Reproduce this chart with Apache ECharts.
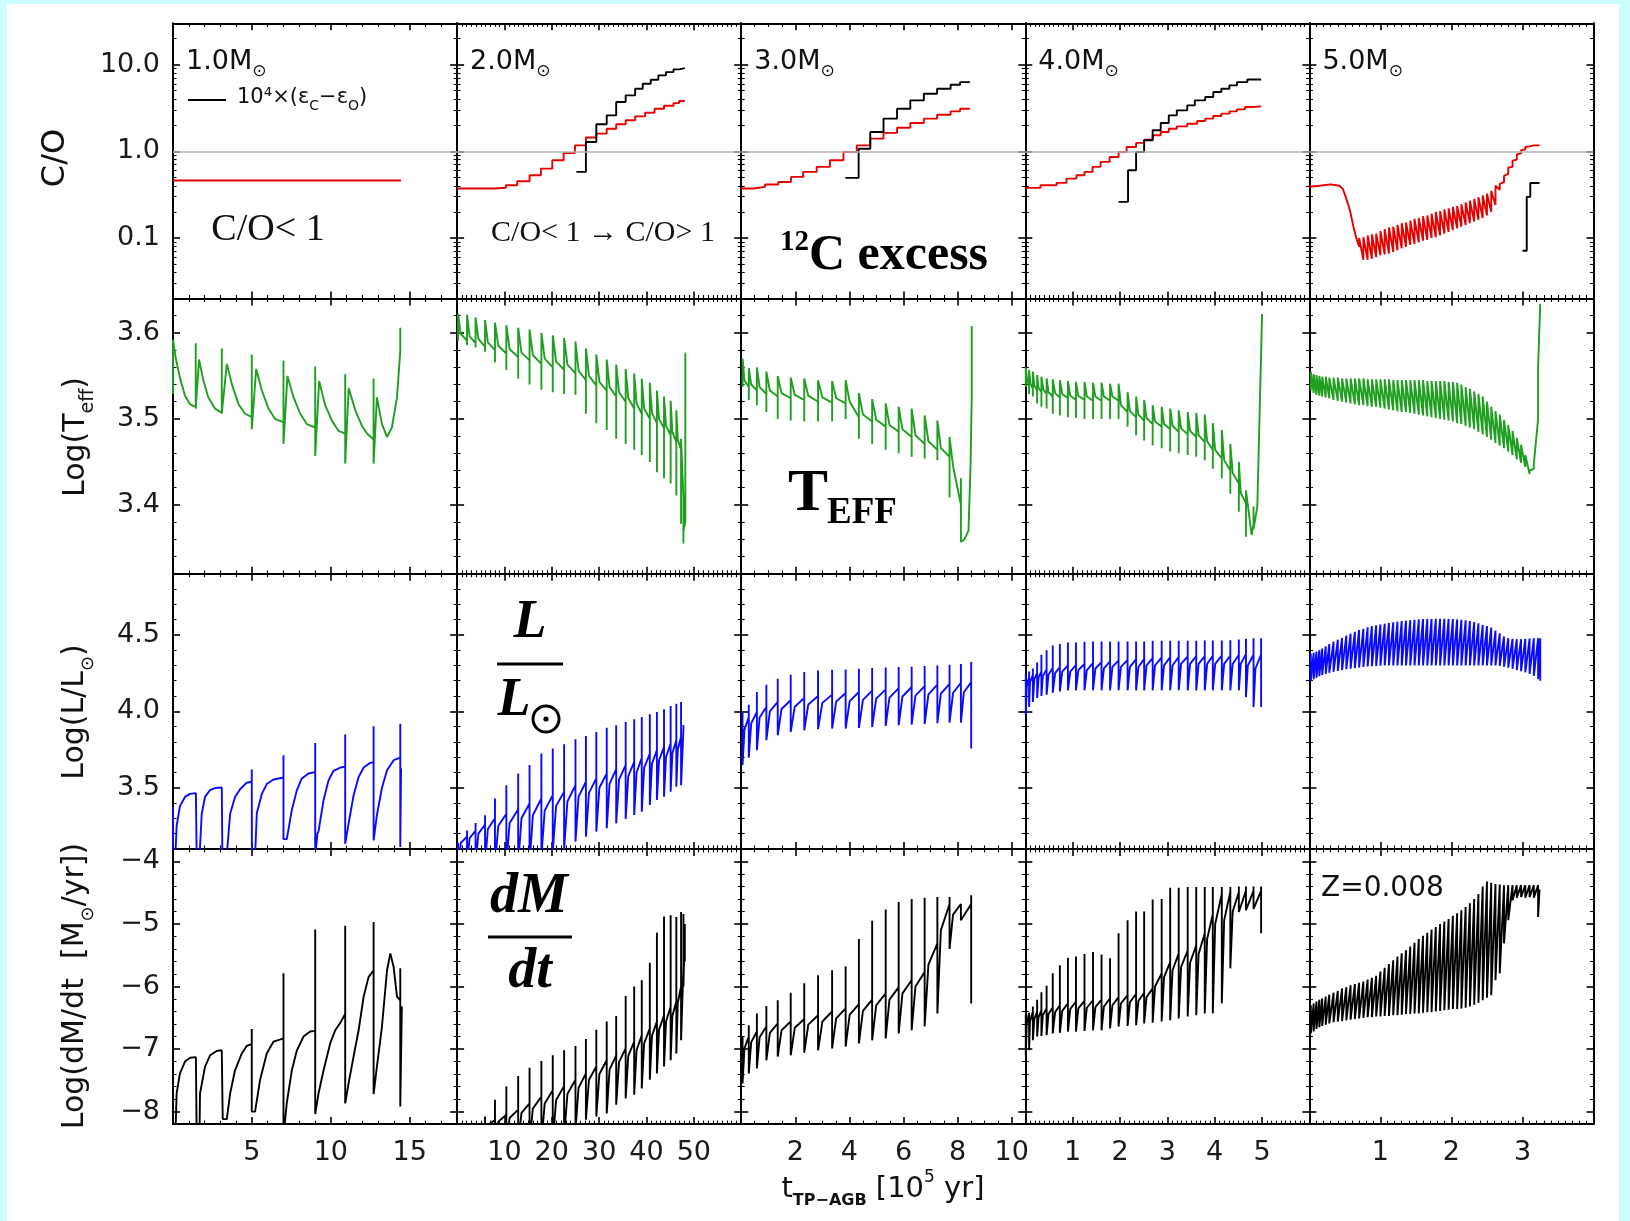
<!DOCTYPE html>
<html><head><meta charset="utf-8">
<script src="https://cdn.jsdelivr.net/npm/echarts@6/dist/echarts.min.js"></script>
<style>
html,body{margin:0;padding:0;background:#cdfdfd;width:1630px;height:1221px;overflow:hidden;}
#frame{position:absolute;left:7px;top:4px;width:1612px;height:1217px;background:#fff;}
#chart{position:absolute;left:0;top:0;width:1630px;height:1221px;}
</style></head>
<body><div id="frame"></div><div id="chart"></div>
<script>
// ---------------- axes / ticks ----------------
const xMax = [18, 60, 10.5, 6, 4];
const xStep = [5, 10, 2, 1, 1];
const xMinor = [5, 10, 4, 10, 10];
const xTickLabels = [[5,10,15],[10,20,30,40,50],[2,4,6,8,10],[1,2,3,4,5],[1,2,3]];
const yRange = [[0.02,30],[3.32,3.64],[3.1,4.9],[-8.2,-3.8]];
const yStep = [null, 0.1, 0.5, 1];
const yTickLabels = [[10,1,0.1],[3.6,3.5,3.4],[4.5,4.0,3.5],[-4,-5,-6,-7,-8]];
const massLabels = ['1.0M','2.0M','3.0M','4.0M','5.0M'];

// ---------------- row 1 : C/O (step data [t, value]) ----------------
const co1Red = [[0,0.46],[14.45,0.46]];
const co2Red = [[0,0.372],[7.9,0.38],[10.3,0.406],[12.7,0.451],[15.3,0.529],[17.7,0.631],[20.1,0.788],[22.5,0.957],[24.9,1.17],[27.2,1.44],[29.4,1.6],[31.6,1.82],[33.6,2.05],[35.6,2.28],[37.6,2.53],[39.7,2.79],[41.7,3.1],[43.7,3.36],[45.7,3.6],[46.9,3.8],[48.1,3.8]];
const co2Black = [[25.2,0.578],[27.2,1.28],[29.4,2.05],[31.6,2.6],[33.6,3.7],[35.6,4.42],[37.6,5.27],[39.2,6.02],[40.9,6.7],[42.5,7.51],[44.1,8.2],[45.7,8.81],[46.9,9.13],[48.1,9.13]];
const co3Red = [[0,0.372],[0.45,0.388],[0.88,0.413],[1.37,0.443],[1.84,0.506],[2.29,0.578],[2.79,0.66],[3.28,0.788],[3.78,0.982],[4.27,1.17],[4.77,1.4],[5.26,1.63],[5.76,1.87],[6.25,2.12],[6.75,2.38],[7.24,2.64],[7.74,2.89],[8.09,3.1],[8.45,3.1]];
const co3Black = [[3.85,0.493],[4.34,1.07],[4.77,1.67],[5.26,2.38],[5.76,3.1],[6.25,3.87],[6.75,4.61],[7.24,5.27],[7.74,5.86],[8.09,6.29],[8.45,6.29]];
const co4Red = [[0,0.378],[0.32,0.406],[0.66,0.432],[0.87,0.484],[1.08,0.529],[1.25,0.578],[1.42,0.66],[1.59,0.754],[1.78,0.86],[1.97,0.982],[2.14,1.12],[2.34,1.25],[2.51,1.36],[2.69,1.53],[2.86,1.67],[3.03,1.82],[3.2,1.94],[3.42,2.08],[3.63,2.24],[3.80,2.38],[3.97,2.55],[4.14,2.72],[4.31,2.89],[4.47,3.05],[4.64,3.24],[4.81,3.3],[4.98,3.3]];
const co4Black = [[1.97,0.261],[2.17,0.604],[2.34,0.982],[2.51,1.34],[2.69,1.75],[2.86,2.12],[3.03,2.6],[3.20,2.97],[3.42,3.39],[3.58,3.87],[3.80,4.23],[3.97,4.83],[4.14,5.27],[4.31,5.76],[4.47,6.29],[4.69,6.75],[4.98,6.75]];
const co5Red = [[0,0.39],[0.14,0.40],[0.30,0.415],[0.42,0.40],[0.47,0.37],[0.51,0.30],[0.57,0.21],[0.62,0.134],[0.66,0.10],
 [0.70,0.079,0.10],[0.76,0.056,0.102],[0.82,0.056,0.107],[0.88,0.0575,0.11],[0.94,0.060,0.112],[1.00,0.063,0.12],[1.06,0.0646,0.126],[1.12,0.066,0.132],[1.18,0.069,0.135],[1.24,0.072,0.141],[1.30,0.076,0.148],[1.36,0.079,0.151],[1.42,0.083,0.158],[1.48,0.085,0.166],[1.54,0.089,0.17],[1.60,0.093,0.178],[1.66,0.095,0.182],[1.72,0.10,0.19],[1.78,0.102,0.20],[1.84,0.107,0.204],[1.90,0.112,0.214],[1.96,0.117,0.219],[2.02,0.123,0.229],[2.08,0.129,0.234],[2.14,0.135,0.245],[2.20,0.141,0.257],[2.26,0.148,0.269],[2.32,0.155,0.282],[2.38,0.162,0.295],[2.44,0.17,0.309],[2.50,0.182,0.324],[2.56,0.20,0.347],[2.62,0.24,0.40],
 [2.68,0.36,0.42],[2.74,0.44,0.52],[2.80,0.55,0.65],[2.86,0.66,0.78],[2.92,0.80,0.92],[2.98,0.95,1.03],[3.04,1.05,1.12],[3.10,1.14,1.16],[3.16,1.17],[3.24,1.17]];
const co5Black = [[3.00,0.071],[3.06,0.298],[3.11,0.43],[3.24,0.43]];

// ---------------- row 2 : Log(Teff)  [t, values at t ...] ----------------
const teff1 = [[0,3.529,3.592],[0.17,3.571],[0.44,3.548],[0.76,3.527],[1.08,3.517],[1.44,3.514,3.588,3.512],[1.65,3.569],[1.92,3.545],[2.24,3.525],[2.66,3.512],[3.09,3.507,3.582,3.506],[3.41,3.564],[3.72,3.541],[4.15,3.517],[4.57,3.506],[4.99,3.502,3.575,3.488],[5.27,3.558],[5.63,3.533],[6.05,3.512],[6.47,3.50],[7.0,3.496,3.568,3.471],[7.25,3.55],[7.64,3.525],[8.06,3.506],[8.48,3.494],[9.01,3.49,3.561,3.457],[9.26,3.544],[9.64,3.516],[10.07,3.498],[10.49,3.486],[10.91,3.483,3.552,3.448],[11.13,3.536],[11.55,3.51],[11.97,3.492],[12.29,3.483],[12.71,3.476,3.547,3.448],[12.92,3.525],[13.24,3.494],[13.56,3.479],[13.87,3.49],[14.19,3.525],[14.4,3.579,3.606,3.58]];
const teff2 = [[0.2,3.601,3.591,3.622],[0.75,3.599],[2.1,3.591,3.586,3.621],[2.65,3.596],[3.9,3.588,3.583,3.618],[4.5,3.593],[5.9,3.584,3.578,3.615],[6.5,3.589],[8.0,3.580,3.566,3.612],[8.7,3.585],[10.4,3.576,3.557,3.609],[11.1,3.581],[12.9,3.572,3.547,3.606],[13.6,3.577],[15.3,3.568,3.540,3.604],[16.0,3.574],[17.8,3.564,3.534,3.600],[18.5,3.570],[20.2,3.560,3.531,3.597],[20.9,3.567],[22.6,3.557,3.529,3.594],[23.3,3.563],[25.0,3.553,3.528,3.590],[25.65,3.556],[27.2,3.545,3.506,3.582],[27.85,3.550],[29.4,3.539,3.495,3.575],[30.05,3.543],[31.6,3.533,3.487,3.569],[32.2,3.537],[33.6,3.526,3.477,3.563],[34.2,3.531],[35.6,3.520,3.471,3.558],[36.15,3.524],[37.4,3.512,3.464,3.553],[37.9,3.518],[39.0,3.506,3.458,3.547],[39.5,3.512],[40.7,3.500,3.450,3.542],[41.15,3.507],[42.2,3.495,3.438,3.533],[42.65,3.500],[43.7,3.489,3.431,3.526],[44.12,3.492],[45.1,3.481,3.425,3.521],[45.46,3.485],[46.3,3.473,3.411,3.510],[46.6,3.476],[47.3,3.464,3.378,3.477],[47.8,3.409,3.355,3.370],[48.2,3.38,3.577]];
const teff3 = [[0.05,3.56,3.537,3.570],[0.12,3.545],[0.28,3.537,3.522,3.559],[0.37,3.540],[0.58,3.533,3.516,3.560],[0.68,3.537],[0.93,3.529,3.508,3.555],[1.06,3.533],[1.35,3.526,3.500,3.550],[1.49,3.530],[1.83,3.524,3.498,3.548],[1.98,3.528],[2.33,3.522,3.497,3.547],[2.48,3.527],[2.84,3.520,3.497,3.545],[3.0,3.525],[3.36,3.519,3.497,3.544],[3.51,3.524],[3.86,3.518,3.500,3.545],[4.01,3.52],[4.35,3.502,3.477,3.530],[4.5,3.505],[4.84,3.497,3.471,3.523],[4.99,3.499],[5.34,3.491,3.464,3.518],[5.48,3.493],[5.82,3.485,3.460,3.514],[5.96,3.488],[6.30,3.479,3.456,3.512],[6.44,3.481],[6.78,3.471,3.454,3.504],[6.92,3.474],[7.25,3.464,3.452,3.498],[7.38,3.466],[7.70,3.456,3.409,3.479],[7.83,3.445],[8.12,3.40,3.431,3.357],[8.25,3.36],[8.40,3.37],[8.48,3.45],[8.52,3.526,3.608]];
const teff4 = [[0.01,3.540,3.537,3.560],[0.04,3.545],[0.08,3.539,3.529,3.557],[0.11,3.541],[0.16,3.535,3.526,3.555],[0.19,3.539],[0.25,3.533,3.518,3.551],[0.28,3.536],[0.34,3.531,3.514,3.549],[0.38,3.534],[0.45,3.529,3.512,3.547],[0.49,3.531],[0.58,3.526,3.506,3.546],[0.63,3.530],[0.73,3.525,3.504,3.545],[0.78,3.529],[0.90,3.524,3.502,3.544],[0.95,3.527],[1.07,3.522,3.501,3.543],[1.12,3.527],[1.25,3.522,3.500,3.543],[1.30,3.526],[1.43,3.521,3.500,3.542],[1.48,3.526],[1.61,3.521,3.500,3.542],[1.66,3.526],[1.79,3.521,3.500,3.541],[1.84,3.526],[1.97,3.521,3.500,3.541],[2.02,3.516],[2.16,3.508,3.491,3.531],[2.21,3.509],[2.34,3.502,3.481,3.526],[2.39,3.505],[2.51,3.498,3.475,3.522],[2.56,3.501],[2.69,3.494,3.469,3.516],[2.74,3.497],[2.88,3.491,3.466,3.514],[2.93,3.494],[3.06,3.488,3.462,3.512],[3.11,3.492],[3.24,3.485,3.460,3.510],[3.29,3.489],[3.43,3.482,3.458,3.508],[3.48,3.486],[3.61,3.479,3.456,3.507],[3.66,3.481],[3.79,3.473,3.452,3.505],[3.84,3.474],[3.96,3.464,3.442,3.495],[4.01,3.464],[4.15,3.454,3.431,3.487],[4.20,3.452],[4.33,3.440,3.413,3.471],[4.38,3.437],[4.51,3.425,3.392,3.450],[4.55,3.414],[4.66,3.402,3.363,3.417],[4.78,3.365],[4.82,3.378,3.398,3.372],[4.90,3.398],[4.96,3.531],[5.0,3.622]];
const t5 = [0.02,0.06,0.10,0.14,0.18,0.23,0.28,0.34,0.40,0.46,0.52,0.58,0.64,0.70,0.76,0.82,0.88,0.94,1.00,1.06,1.12,1.18,1.24,1.30,1.36,1.42,1.48,1.54,1.60,1.66,1.72,1.78,1.84,1.90,1.96,2.02,2.08,2.14,2.20,2.26,2.32,2.38,2.44,2.50,2.56,2.62,2.68,2.74,2.80,2.86,2.92,2.98,3.04,3.10,3.16,3.22];
const teff5Base = [3.533,3.530,3.528,3.527,3.526,3.525,3.524,3.522,3.521,3.520,3.519,3.518,3.517,3.516,3.516,3.515,3.514,3.514,3.513,3.512,3.511,3.510,3.509,3.508,3.508,3.507,3.506,3.505,3.504,3.503,3.502,3.501,3.500,3.499,3.498,3.497,3.495,3.494,3.492,3.490,3.488,3.485,3.482,3.479,3.476,3.472,3.469,3.466,3.462,3.458,3.453,3.449,3.444,3.436,3.442,3.50];
const teff5Peak = [3.555,3.552,3.551,3.550,3.549,3.549,3.548,3.548,3.548,3.547,3.547,3.547,3.547,3.547,3.547,3.546,3.546,3.546,3.546,3.546,3.546,3.545,3.545,3.545,3.545,3.545,3.545,3.545,3.545,3.544,3.544,3.544,3.544,3.544,3.543,3.543,3.542,3.540,3.537,3.535,3.532,3.529,3.526,3.520,3.514,3.509,3.505,3.499,3.493,3.486,3.478,3.470,3.458,3.440,3.448,3.560];
const teff5End = [[3.25,3.634]];

// ---------------- row 3 : Log(L/Lsun) ----------------
const lum1 = [[0,3.37,3.05],[0.15,3.05],[0.23,3.25],[0.44,3.38],[0.76,3.44],[1.08,3.46],[1.45,3.465],[1.5,3.05],[1.68,3.05],[1.82,3.33],[2.03,3.44],[2.35,3.485],[2.66,3.498],[3.09,3.502],[3.13,3.05],[3.4,3.05],[3.62,3.33],[3.93,3.44],[4.25,3.49],[4.67,3.533],[4.99,3.539,3.619],[5.0,3.05],[5.2,3.05],[5.31,3.333],[5.63,3.46],[5.94,3.524],[6.37,3.554],[7.0,3.567,3.713,3.164],[7.21,3.164],[7.53,3.355],[7.85,3.485],[8.16,3.561],[8.59,3.593],[9.01,3.602,3.793,3.05],[9.15,3.2],[9.22,3.214],[9.54,3.42],[9.86,3.55],[10.17,3.611],[10.6,3.632],[10.91,3.637,3.849,3.133],[11.13,3.268],[11.44,3.45],[11.76,3.57],[12.08,3.632],[12.5,3.663],[12.71,3.667,3.903,3.155],[12.92,3.322],[13.24,3.5],[13.56,3.615],[13.98,3.68],[14.4,3.697,3.919,3.112],[14.45,3.626]];
const lum2 = [[0.2,3.12,3.14,3.0],[0.8,3.14],[2.1,3.18,3.22,3.0],[2.65,3.17],[3.9,3.22,3.27,3.0],[4.5,3.2],[5.9,3.26,3.32,3.0],[6.5,3.23],[8.0,3.30,3.43,3.0],[8.7,3.25],[10.4,3.33,3.517,3.0],[11.1,3.27],[12.9,3.36,3.593,3.0],[13.6,3.30],[15.3,3.398,3.648,3.0],[16.0,3.32],[17.8,3.43,3.724,3.05],[18.5,3.35],[20.2,3.452,3.757,3.08],[20.9,3.38],[22.6,3.474,3.785,3.10],[23.3,3.41],[25.0,3.517,3.817,3.148],[25.65,3.44],[27.2,3.539,3.839,3.18],[27.85,3.466],[29.4,3.561,3.865,3.213],[30.05,3.50],[31.6,3.593,3.893,3.235],[32.2,3.525],[33.6,3.622,3.909,3.267],[34.2,3.553],[35.6,3.648,3.930,3.296],[36.15,3.576],[37.4,3.670,3.948,3.322],[37.9,3.60],[39.0,3.696,3.963,3.343],[39.5,3.63],[40.7,3.724,3.980,3.387],[41.15,3.656],[42.2,3.746,3.996,3.420],[42.65,3.68],[43.7,3.767,4.013,3.441],[44.12,3.70],[45.1,3.789,4.035,3.474],[45.46,3.725],[46.3,3.811,4.050,3.507],[46.6,3.75],[47.3,3.833,4.061,3.517],[47.8,3.88,3.91]];
const lum3 = [[0.05,3.70,3.996,3.648],[0.12,3.88],[0.28,3.963,4.043,3.696],[0.37,3.92],[0.58,3.996,4.126,3.746],[0.68,3.96],[0.93,4.028,4.174,3.811],[1.06,4.0],[1.35,4.061,4.213,3.843],[1.49,4.015],[1.83,4.072,4.239,3.865],[1.98,4.03],[2.33,4.087,4.257,3.876],[2.48,4.045],[2.84,4.10,4.267,3.883],[3.0,4.055],[3.36,4.109,4.272,3.887],[3.51,4.063],[3.86,4.12,4.274,3.887],[4.01,4.067],[4.35,4.126,4.278,3.891],[4.5,4.075],[4.84,4.135,4.283,3.898],[4.99,4.083],[5.34,4.143,4.287,3.904],[5.48,4.09],[5.82,4.152,4.289,3.909],[5.96,4.097],[6.30,4.159,4.291,3.913],[6.44,4.103],[6.78,4.165,4.296,3.917],[6.92,4.11],[7.25,4.174,4.30,3.922],[7.38,4.115],[7.70,4.18,4.304,3.926],[7.83,4.12],[8.12,4.187,4.309,3.926],[8.23,4.125],[8.50,4.191,4.322,3.757]];
const lum4 = [[0.01,4.21,4.24,3.974],[0.03,4.16],[0.08,4.224,4.26,4.028],[0.10,4.19],[0.16,4.239,4.28,4.061],[0.19,4.21],[0.25,4.252,4.32,4.087],[0.28,4.22],[0.34,4.261,4.37,4.10],[0.37,4.23],[0.45,4.274,4.40,4.109],[0.49,4.24],[0.58,4.283,4.43,4.122],[0.63,4.25],[0.73,4.289,4.44,4.13],[0.78,4.26],[0.90,4.30,4.45,4.137],[0.95,4.26],[1.07,4.304,4.45,4.137],[1.12,4.27],[1.25,4.309,4.455,4.137],[1.30,4.27],[1.43,4.315,4.457,4.137],[1.48,4.28],[1.61,4.322,4.457,4.137],[1.66,4.28],[1.79,4.326,4.457,4.137],[1.84,4.29],[1.97,4.333,4.457,4.137],[2.02,4.29],[2.16,4.337,4.457,4.137],[2.21,4.29],[2.34,4.339,4.457,4.137],[2.39,4.29],[2.51,4.343,4.457,4.137],[2.56,4.30],[2.69,4.348,4.461,4.137],[2.74,4.30],[2.88,4.352,4.461,4.137],[2.93,4.30],[3.06,4.354,4.461,4.137],[3.11,4.30],[3.24,4.357,4.461,4.137],[3.29,4.31],[3.43,4.359,4.461,4.137],[3.48,4.31],[3.61,4.361,4.461,4.137],[3.66,4.31],[3.79,4.361,4.463,4.137],[3.84,4.31],[3.96,4.363,4.463,4.137],[4.01,4.31],[4.15,4.365,4.463,4.137],[4.20,4.31],[4.33,4.365,4.465,4.137],[4.38,4.31],[4.51,4.37,4.47,4.137],[4.55,4.31],[4.66,4.374,4.474,4.093],[4.70,4.30],[4.82,4.37,4.478,4.028],[4.86,4.28],[4.98,4.37,4.478,4.028,4.326]];
const lum5Top = [4.376,4.383,4.39,4.40,4.41,4.425,4.44,4.455,4.468,4.48,4.495,4.508,4.52,4.531,4.54,4.549,4.557,4.563,4.568,4.573,4.578,4.582,4.586,4.59,4.593,4.596,4.599,4.601,4.603,4.604,4.604,4.605,4.605,4.605,4.604,4.603,4.601,4.599,4.595,4.59,4.584,4.576,4.565,4.558,4.548,4.528,4.51,4.49,4.478,4.474,4.472,4.472,4.474,4.476,4.477,4.478];
const lum5Dip = [4.20,4.21,4.22,4.23,4.238,4.245,4.252,4.258,4.264,4.27,4.275,4.279,4.283,4.287,4.29,4.293,4.295,4.297,4.299,4.30,4.30,4.30,4.30,4.30,4.30,4.30,4.30,4.30,4.30,4.30,4.30,4.30,4.30,4.30,4.30,4.30,4.30,4.30,4.30,4.30,4.30,4.30,4.30,4.30,4.30,4.30,4.298,4.292,4.285,4.278,4.27,4.262,4.255,4.245,4.232,4.21];
const lum5End = [[3.25,4.478,4.20]];

// ---------------- row 4 : Log(dM/dt) ----------------
const mdot1 = [[0,-7.39,-8.4],[0.15,-8.4],[0.23,-7.71],[0.44,-7.39],[0.76,-7.2],[1.08,-7.14],[1.45,-7.13],[1.5,-8.4],[1.68,-8.4],[1.71,-7.71],[2.03,-7.28],[2.35,-7.1],[2.77,-7.03],[3.09,-7.02],[3.15,-8.12],[3.41,-8.12],[3.62,-7.71],[3.93,-7.34],[4.36,-7.07],[4.67,-6.95],[4.99,-6.92,-6.68,-8.0],[5.2,-8.0],[5.52,-7.49],[5.94,-7.07],[6.37,-6.88],[7.0,-6.83,-5.79,-8.4],[7.21,-7.86],[7.53,-7.34],[7.85,-7.02],[8.27,-6.8],[8.69,-6.72],[9.01,-6.71,-5.09,-8.04],[9.22,-7.71],[9.54,-7.34],[9.96,-6.91],[10.28,-6.7],[10.6,-6.58],[10.91,-6.44,-5.03,-7.87],[11.13,-7.54],[11.44,-7.12],[11.76,-6.7],[12.08,-6.16],[12.39,-5.85],[12.71,-5.74,-4.97,-7.72],[12.92,-7.28],[13.24,-6.64],[13.56,-5.74],[13.77,-5.47],[13.98,-5.69],[14.19,-6.16],[14.4,-6.22,-5.71,-7.92],[14.5,-6.32]];
const mdot2 = [[0,-8.5],[2.1,-8.5,-8.4,-8.5],[3.9,-8.45,-8.3,-8.5],[5.9,-8.35,-8.08,-8.5],[6.5,-8.22],[8.0,-8.13,-7.81,-8.5],[8.7,-8.16],[10.4,-8.05,-7.60,-8.5],[11.1,-8.10],[12.9,-7.97,-7.43,-8.5],[13.6,-8.02],[15.3,-7.87,-7.30,-8.5],[16.0,-7.95],[17.8,-7.76,-7.19,-8.5],[18.5,-7.87],[20.2,-7.66,-7.10,-8.5],[20.9,-7.82],[22.6,-7.59,-7.02,-8.4],[23.3,-7.72],[25.0,-7.49,-6.95,-8.3],[25.65,-7.62],[27.2,-7.39,-6.84,-8.13],[27.85,-7.49],[29.4,-7.28,-6.69,-8.08],[30.05,-7.40],[31.6,-7.18,-6.56,-8.03],[32.2,-7.33],[33.6,-7.10,-6.47,-7.89],[34.2,-7.21],[35.6,-6.99,-6.15,-7.79],[36.15,-7.11],[37.4,-6.88,-6.00,-7.73],[37.9,-7.02],[39.0,-6.78,-5.90,-7.63],[39.5,-6.91],[40.7,-6.67,-5.62,-7.49],[41.15,-6.79],[42.2,-6.56,-5.14,-7.39],[42.65,-6.69],[43.7,-6.46,-4.88,-7.28],[44.12,-6.56],[45.1,-6.32,-4.86,-7.18],[45.46,-6.47],[46.3,-6.24,-4.89,-7.07],[46.6,-6.27],[47.3,-6.0,-4.81,-6.86],[47.8,-5.69,-4.84,-5.5,-4.9,-6.0],[48.1,-5.0,-5.6]];
const mdot3 = [[0.05,-6.86,-6.80,-7.55],[0.12,-6.99],[0.28,-6.80,-6.62,-7.39],[0.37,-6.89],[0.58,-6.72,-6.43,-7.31],[0.68,-6.81],[0.93,-6.64,-6.31,-7.18],[1.06,-6.74],[1.35,-6.59,-6.22,-7.12],[1.49,-6.70],[1.83,-6.56,-6.10,-7.10],[1.98,-6.66],[2.33,-6.52,-5.95,-7.06],[2.48,-6.61],[2.84,-6.46,-5.82,-7.02],[3.0,-6.56],[3.36,-6.40,-5.74,-6.99],[3.51,-6.51],[3.86,-6.35,-5.68,-6.96],[4.01,-6.45],[4.35,-6.28,-5.24,-6.91],[4.5,-6.39],[4.84,-6.21,-4.95,-6.86],[4.99,-6.30],[5.34,-6.11,-4.77,-6.83],[5.48,-6.21],[5.82,-6.01,-4.65,-6.75],[5.96,-6.11],[6.30,-5.90,-4.60,-6.70],[6.44,-6.0],[6.78,-5.77,-4.58,-6.64],[6.92,-5.65],[7.25,-5.31,-4.57,-6.43],[7.38,-5.1],[7.70,-4.68,-4.57,-5.40],[7.83,-4.85],[8.12,-4.68,-4.66,-4.94],[8.50,-4.68,-4.54,-6.27]];
const mdot4 = [[0.01,-6.45,-6.45,-7.10],[0.03,-6.6],[0.08,-6.42,-6.40,-7.02],[0.10,-6.56],[0.16,-6.40,-6.32,-6.86],[0.19,-6.52],[0.25,-6.40,-6.21,-6.80],[0.28,-6.49],[0.34,-6.38,-6.09,-6.79],[0.37,-6.46],[0.45,-6.35,-5.99,-6.78],[0.49,-6.44],[0.58,-6.33,-5.79,-6.75],[0.63,-6.41],[0.73,-6.30,-5.66,-6.74],[0.78,-6.39],[0.90,-6.27,-5.54,-6.72],[0.95,-6.36],[1.07,-6.24,-5.52,-6.72],[1.12,-6.35],[1.25,-6.23,-5.48,-6.71],[1.30,-6.34],[1.43,-6.22,-5.45,-6.70],[1.48,-6.33],[1.61,-6.21,-5.49,-6.70],[1.66,-6.32],[1.79,-6.19,-5.55,-6.67],[1.84,-6.30],[1.97,-6.17,-5.15,-6.64],[2.02,-6.27],[2.16,-6.14,-4.94,-6.63],[2.21,-6.25],[2.34,-6.12,-4.80,-6.62],[2.39,-6.23],[2.51,-6.10,-4.80,-6.59],[2.56,-6.17],[2.69,-6.03,-4.61,-6.58],[2.74,-6.0],[2.88,-5.79,-4.60,-6.56],[2.93,-5.85],[3.06,-5.61,-4.42,-6.54],[3.11,-5.74],[3.24,-5.47,-4.42,-6.51],[3.29,-5.69],[3.43,-5.42,-4.41,-6.48],[3.48,-5.62],[3.61,-5.34,-4.41,-6.46],[3.66,-5.48],[3.79,-5.15,-4.41,-6.43],[3.84,-5.24],[3.96,-4.84,-4.41,-6.43],[4.01,-5.0],[4.15,-4.52,-4.41,-6.27],[4.20,-4.94],[4.33,-4.49,-4.41,-5.71],[4.38,-4.80],[4.51,-4.49,-4.40,-4.81],[4.66,-4.47,-4.40,-4.78],[4.82,-4.47,-4.40,-4.76],[4.98,-4.47,-4.40,-5.15]];
const mdot5Top = [-6.30,-6.27,-6.24,-6.21,-6.19,-6.16,-6.13,-6.10,-6.07,-6.03,-6.01,-5.98,-5.96,-5.94,-5.92,-5.89,-5.86,-5.83,-5.76,-5.70,-5.64,-5.58,-5.52,-5.47,-5.42,-5.36,-5.30,-5.24,-5.19,-5.14,-5.09,-5.05,-5.00,-4.96,-4.92,-4.87,-4.83,-4.78,-4.73,-4.67,-4.60,-4.52,-4.40,-4.32,-4.34,-4.36,-4.37,-4.38,-4.38,-4.38,-4.38,-4.38,-4.38,-4.38,-4.38,-4.38];
const mdot5Dip = [-6.75,-6.72,-6.68,-6.65,-6.63,-6.61,-6.59,-6.57,-6.56,-6.55,-6.54,-6.53,-6.52,-6.51,-6.50,-6.49,-6.49,-6.48,-6.48,-6.47,-6.47,-6.46,-6.46,-6.45,-6.44,-6.44,-6.43,-6.43,-6.42,-6.41,-6.41,-6.40,-6.39,-6.38,-6.37,-6.36,-6.36,-6.35,-6.34,-6.32,-6.29,-6.26,-6.22,-6.18,-6.14,-5.90,-5.79,-5.31,-4.94,-4.62,-4.58,-4.57,-4.58,-4.57,-4.58,-4.89];
const mdot5End = [[3.24,-4.45]];

// ---------------- build ----------------
function flat(rows){ const out=[]; rows.forEach(r=>{ for(let i=1;i<r.length;i++) out.push([r[0], r[i]]); }); return out; }
function zipRows(t, ...cols){ return t.map((x,i)=>[x, ...cols.map(c=>c[i])]); }
function near(v, arr){ return arr.some(a=>Math.abs(a-v) < 1e-6*Math.max(1,Math.abs(a))); }

const GL=173, GT=23.3, GW=284.1, GH=275.2;
const RED='#e60000', GREEN='#1f9e1f', BLUE='#0a0aff', BLACK='#000000';
const LBL={fontFamily:'DejaVu Sans', fontSize:27, color:'#1a1a1a'};

function yFmt(r, v){
  if(!near(v, yTickLabels[r])) return '';
  if(r===0){ return Math.abs(v-10)<1e-6?'10.0':(Math.abs(v-1)<1e-6?'1.0':'0.1'); }
  if(r===3) return '\u2212'+Math.round(Math.abs(v));
  return v.toFixed(1);
}
function mkX(g,c,pos,lab){
  return {type:'value', gridIndex:g, position:pos, min:0, max:xMax[c], interval:xStep[c],
    axisLine:{show:true,onZero:false,lineStyle:{color:'#000',width:2}},
    axisTick:{show:true,inside:true,length:7,lineStyle:{color:'#000',width:1.6}},
    minorTick:{show:true,splitNumber:xMinor[c],length:3.5,lineStyle:{color:'#000',width:1.1}},
    splitLine:{show:false}, minorSplitLine:{show:false},
    axisLabel:Object.assign({show:lab, margin:15, formatter:v=>near(v,xTickLabels[c])?String(v):''},LBL)};
}
function mkY(g,r,pos,lab){
  const a={gridIndex:g, position:pos, min:yRange[r][0], max:yRange[r][1],
    axisLine:{show:true,onZero:false,lineStyle:{color:'#000',width:2}},
    axisTick:{show:true,inside:true,length:7,lineStyle:{color:'#000',width:1.6}},
    minorTick:{show:true,splitNumber:r===0?9:5,length:3.5,lineStyle:{color:'#000',width:1.1}},
    splitLine:{show:false}, minorSplitLine:{show:false},
    axisLabel:Object.assign({show:lab, margin:13, formatter:v=>yFmt(r,v)},LBL)};
  if(r===0){ a.type='log'; a.logBase=10; }
  else { a.type='value'; a.minInterval=yStep[r]; a.maxInterval=yStep[r]; a.splitNumber=4; }
  return a;
}

const grids=[], xAxes=[], yAxes=[], series=[];
for(let r=0;r<4;r++) for(let c=0;c<5;c++){
  const g=r*5+c;
  grids.push({left:GL+c*GW, top:GT+r*GH, width:GW, height:GH, containLabel:false});
  xAxes.push(mkX(g,c,'bottom',r===3)); xAxes.push(mkX(g,c,'top',false));
  yAxes.push(mkY(g,r,'left',c===0)); yAxes.push(mkY(g,r,'right',false));
}
function add(g, data, color, extra){
  series.push(Object.assign({type:'line', xAxisIndex:2*g, yAxisIndex:2*g, data:data, symbol:'none', showSymbol:false,
    animation:false, clip:true, silent:true, lineStyle:{color:color, width:1.9}, itemStyle:{color:color}, z:3}, extra||{}));
}
const oneLine = {markLine:{silent:true, symbol:['none','none'], label:{show:false}, animation:false,
  lineStyle:{color:'#b4b4b4', width:1.6, type:'solid'}, data:[{yAxis:1}]}};
add(0, co1Red, RED, Object.assign({step:'end'}, oneLine));
add(1, co2Red, RED, Object.assign({step:'end'}, oneLine)); add(1, co2Black, BLACK, {step:'end'});
add(2, co3Red, RED, Object.assign({step:'end'}, oneLine)); add(2, co3Black, BLACK, {step:'end'});
add(3, co4Red, RED, Object.assign({step:'end'}, oneLine)); add(3, co4Black, BLACK, {step:'end'});
add(4, flat(co5Red), RED, oneLine); add(4, co5Black, BLACK, {step:'end'});
add(5, flat(teff1), GREEN); add(6, flat(teff2), GREEN); add(7, flat(teff3), GREEN); add(8, flat(teff4), GREEN);
add(9, flat(zipRows(t5, teff5Base, teff5Peak).concat(teff5End)), GREEN);
add(10, flat(lum1), BLUE); add(11, flat(lum2), BLUE); add(12, flat(lum3), BLUE); add(13, flat(lum4), BLUE);
add(14, flat(zipRows(t5, lum5Top, lum5Dip).concat(lum5End)), BLUE);
add(15, flat(mdot1), BLACK); add(16, flat(mdot2), BLACK); add(17, flat(mdot3), BLACK); add(18, flat(mdot4), BLACK);
add(19, flat(zipRows(t5, mdot5Top, mdot5Dip).concat(mdot5End)), BLACK);

// ---------------- text ----------------
const SANS='DejaVu Sans', SERIF='Liberation Serif';
function txt(x,y,text,style,extra){
  return Object.assign({type:'text', x:x, y:y, z:20, silent:true,
    style:Object.assign({text:text, fill:'#111', fontFamily:SANS, fontSize:27, align:'center', verticalAlign:'middle'}, style)}, extra||{});
}
const subRich = (m,s,lh)=>({m:{fontSize:m, fontFamily:SANS, fill:'#111', lineHeight:lh, verticalAlign:'middle'},
                            s:{fontSize:s, fontFamily:SANS, fill:'#111', verticalAlign:'bottom'},
                            p:{fontSize:s, fontFamily:SANS, fill:'#111', verticalAlign:'top'}});
const gfx=[];
const ROT=Math.PI/2;
gfx.push(txt(56,158,'C/O',{fontSize:32},{rotation:ROT}));
gfx.push(txt(76,437,'{m|Log(T}{s|eff}{m|)}',{rich:subRich(30,19,44)},{rotation:ROT}));
gfx.push(txt(75,712,'{m|Log(L/L}{s|\u2299}{m|)}',{rich:subRich(30,18,44)},{rotation:ROT}));
gfx.push(txt(75,986,'{m|Log(dM/dt  [M}{s|\u2299}{m|/yr])}',{rich:subRich(30,18,44)},{rotation:ROT}));
massLabels.forEach((m,c)=>{
  gfx.push(txt(GL+c*GW+13,62,'{m|'+m+'}{s|\u2299}',{align:'left',rich:subRich(27,17,36)}));
});
gfx.push({type:'line', z:20, silent:true, shape:{x1:188,y1:100,x2:226,y2:100}, style:{stroke:'#000',lineWidth:2}});
gfx.push(txt(237,98,'{m|10\u2074\u00d7(\u03b5}{s|C}{m|\u2212\u03b5}{s|O}{m|)}',{align:'left',rich:subRich(21,14,30)}));
gfx.push(txt(268,230,'C/O< 1',{fontFamily:SERIF,fontSize:38}));
gfx.push(txt(603,233,'C/O< 1 \u2192 C/O> 1',{fontFamily:SERIF,fontSize:30}));
gfx.push(txt(884,256,'{p|12}{m|C excess}',{rich:{
  m:{fontFamily:SERIF,fontWeight:'bold',fontSize:50,lineHeight:56,fill:'#000',verticalAlign:'middle'},
  p:{fontFamily:SERIF,fontWeight:'bold',fontSize:29,fill:'#000',verticalAlign:'top'}}}));
gfx.push(txt(808,494,'T',{fontFamily:SERIF,fontWeight:'bold',fontSize:60,fill:'#000'}));
gfx.push(txt(827,513,'EFF',{fontFamily:SERIF,fontWeight:'bold',fontSize:37,fill:'#000',align:'left'}));
const MATH={fontFamily:SERIF,fontWeight:'bold',fontStyle:'italic',fill:'#000'};
gfx.push(txt(530,623,'L',Object.assign({fontSize:54},MATH)));
gfx.push({type:'line', z:20, silent:true, shape:{x1:497,y1:664,x2:563,y2:664}, style:{stroke:'#000',lineWidth:3}});
gfx.push(txt(514,701,'L',Object.assign({fontSize:54},MATH)));
gfx.push({type:'circle', z:20, silent:true, shape:{cx:546,cy:719,r:13}, style:{fill:'none',stroke:'#000',lineWidth:3}});
gfx.push({type:'circle', z:20, silent:true, shape:{cx:546,cy:719,r:2.6}, style:{fill:'#000'}});
gfx.push(txt(529,898,'dM',Object.assign({fontSize:56},MATH)));
gfx.push({type:'line', z:20, silent:true, shape:{x1:488,y1:937,x2:572,y2:937}, style:{stroke:'#000',lineWidth:3}});
gfx.push(txt(530,973,'dt',Object.assign({fontSize:56},MATH)));
gfx.push(txt(1321,889,'Z=0.008',{fontSize:28,align:'left'}));
gfx.push(txt(883,1189,'{m|t}{s|TP\u2212AGB}{m| [10}{p|5}{m| yr]}',{rich:{
  m:{fontSize:29,fontFamily:SANS,fill:'#111',lineHeight:40,verticalAlign:'middle'},
  s:{fontSize:16,fontFamily:SANS,fontWeight:'bold',fill:'#111',verticalAlign:'bottom'},
  p:{fontSize:17,fontFamily:SANS,fill:'#111',verticalAlign:'top'}}}));

const chart = echarts.init(document.getElementById('chart'), null, {renderer:'canvas'});
chart.setOption({backgroundColor:'transparent', animation:false, grid:grids, xAxis:xAxes, yAxis:yAxes, series:series, graphic:gfx});
</script></body></html>
